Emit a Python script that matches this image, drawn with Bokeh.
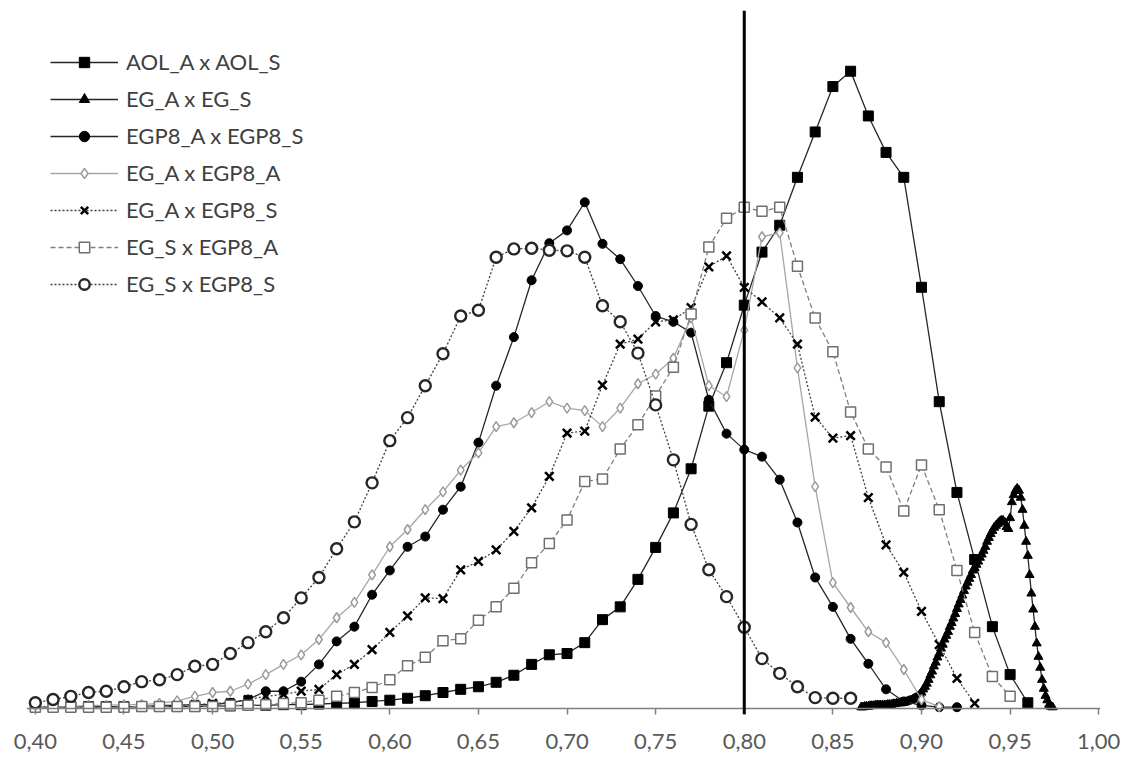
from bokeh.plotting import figure
from bokeh.models import Span, Legend, LegendItem, FixedTicker, Range1d
from bokeh.embed import file_html
from bokeh.resources import INLINE

def bins(start, n, step):
    return [round(start + step * i, 3) for i in range(n)]

# ---- data (relative frequency, arbitrary units) ----
aol = [0.3, 0.3, 0.3, 0.3, 0.3, 0.3, 0.3, 0.3, 0.3, 0.3,
       0.4, 0.4, 0.5, 0.5, 0.6, 0.6, 0.7, 0.8, 0.9, 1.1,
       1.3, 1.6, 2.0, 2.5, 3.0, 3.4, 4.1, 5.2, 6.9, 8.4,
       8.6, 10.3, 13.9, 15.9, 20.2, 25.2, 30.6, 37.5, 47.3, 54.1,
       63.1, 71.4, 75.6, 83.1, 90.2, 97.3, 99.7, 92.7, 87.0, 83.1,
       65.9, 48.0, 33.8, 23.3, 12.8, 5.3, 0.9]

eg_tri = [0.2, 0.2, 0.3, 0.3, 0.3, 0.4, 0.4, 0.4, 0.5, 0.5,
          0.5, 0.5, 0.5, 0.5, 0.5, 0.6, 0.6, 0.6, 0.7, 0.7,
          0.8, 0.8, 0.9, 0.9, 0.9, 1.0, 1.1, 1.2, 1.3, 1.4,
          1.6, 1.7, 1.9, 2.2, 2.5, 3.0, 3.4, 3.9, 4.5, 5.2,
          5.8, 6.6, 7.2, 8.0, 8.6, 9.4, 10.0, 10.8, 11.4, 12.0,
          12.8, 13.4, 14.1, 14.8, 15.6, 16.3, 17.0, 17.7, 18.4, 19.1,
          19.7, 20.3, 20.9, 21.6, 22.0, 22.5, 23.0, 23.6, 24.1, 24.7,
          25.3, 26.1, 26.7, 27.3, 27.8, 28.3, 28.6, 28.9, 29.2, 29.4,
          29.4, 29.1, 28.4, 28.1, 29.8, 32.3, 33.4, 34.1, 34.4, 34.1,
          33.0, 31.1, 28.6, 26.1, 23.9, 20.9, 18.0, 15.5, 12.8, 10.2,
          8.1, 6.4, 4.5, 3.1, 2.0, 1.3, 0.6, 0.3, 0.2]

egp8 = [0.3, 0.3, 0.3, 0.3, 0.3, 0.3, 0.3, 0.5, 0.5, 0.6,
        0.6, 0.9, 1.4, 2.7, 2.7, 4.2, 6.9, 10.5, 12.8, 17.8,
        21.6, 25.3, 26.9, 31.1, 34.7, 41.6, 50.5, 58.1, 67.0, 72.8,
        74.8, 79.2, 72.7, 70.3, 66.1, 61.4, 60.5, 58.8, 48.3, 43.0,
        40.5, 39.4, 35.8, 29.1, 20.5, 15.9, 10.9, 7.0, 3.0, 1.1,
        0.5, 0.2, 0.2]

ega_egp8a = [0.3, 0.3, 0.3, 0.5, 0.5, 0.6, 0.6, 0.8, 1.2, 1.9,
             2.5, 2.7, 3.8, 5.3, 6.9, 8.4, 10.8, 14.2, 16.6, 20.9,
             25.3, 28.0, 31.1, 33.9, 37.3, 40.0, 44.1, 44.7, 46.3, 48.0,
             47.0, 46.6, 44.1, 47.0, 50.8, 52.3, 54.8, 61.1, 50.5, 48.8,
             59.2, 73.8, 74.4, 53.3, 34.7, 19.7, 15.8, 12.0, 10.3, 6.1,
             1.4, 0.3]

ega_egp8s = [0.3, 0.2, 0.2, 0.2, 0.2, 0.3, 0.3, 0.3, 0.5, 0.6,
             0.8, 0.9, 1.4, 1.9, 2.2, 2.7, 3.0, 5.3, 6.9, 9.2,
             11.9, 14.5, 17.3, 17.2, 21.7, 23.0, 24.8, 27.7, 31.4, 36.3,
             43.1, 43.4, 50.6, 57.0, 57.8, 60.5, 60.8, 62.7, 69.1, 70.8,
             65.9, 63.6, 61.1, 57.0, 45.6, 42.3, 42.7, 33.0, 25.6, 21.3,
             15.2, 10.0, 4.7, 0.8]

egs_egp8a = [0.2, 0.2, 0.2, 0.2, 0.2, 0.2, 0.3, 0.3, 0.3, 0.3,
             0.3, 0.5, 0.5, 0.6, 0.8, 0.9, 1.3, 1.9, 2.5, 3.3,
             4.5, 6.7, 8.0, 10.6, 10.9, 13.8, 15.9, 18.8, 22.8, 25.8,
             29.5, 35.5, 35.9, 40.6, 44.4, 48.9, 53.4, 61.7, 72.2, 76.7,
             78.4, 77.8, 78.4, 69.2, 61.1, 55.8, 46.4, 40.6, 37.8, 30.9,
             38.1, 31.1, 21.6, 11.9, 5.0, 1.9]

egs_egp8s = [0.9, 1.4, 1.9, 2.5, 2.7, 3.4, 4.2, 4.5, 5.3, 6.6,
             6.9, 8.6, 10.3, 12.0, 14.2, 17.3, 20.5, 25.0, 29.2, 35.3,
             41.9, 45.5, 50.5, 55.5, 61.4, 62.3, 70.6, 71.9, 72.0, 71.7,
             71.6, 70.6, 63.0, 60.5, 55.6, 47.5, 38.9, 28.8, 21.7, 17.5,
             12.7, 7.8, 5.5, 3.4, 1.7, 1.6, 1.6]

tick_values = [0.40, 0.45, 0.50, 0.55, 0.60, 0.65, 0.70, 0.75, 0.80, 0.85, 0.90, 0.95, 1.00]
tick_labels = ["0,40", "0,45", "0,50", "0,55", "0,60", "0,65", "0,70", "0,75", "0,80", "0,85", "0,90", "0,95", "1,00"]
threshold = 0.80

series = [
    dict(name="AOL_A x AOL_S", x=bins(0.40, len(aol), 0.01), y=aol,
         line_color="#262626", dash="solid", marker="square", size=10,
         fill="black", mline="black", mlw=1),
    dict(name="EG_A x EG_S", x=bins(0.866, len(eg_tri), 0.001), y=eg_tri,
         line_color="#262626", dash="solid", marker="triangle", size=9,
         fill="black", mline="black", mlw=1),
    dict(name="EGP8_A x EGP8_S", x=bins(0.40, len(egp8), 0.01), y=egp8,
         line_color="#262626", dash="solid", marker="circle", size=9,
         fill="black", mline="black", mlw=1),
    dict(name="EG_A x EGP8_A", x=bins(0.40, len(ega_egp8a), 0.01), y=ega_egp8a,
         line_color="#a6a6a6", dash="solid", marker="diamond", size=10,
         fill="white", mline="#9a9a9a", mlw=1.5),
    dict(name="EG_A x EGP8_S", x=bins(0.40, len(ega_egp8s), 0.01), y=ega_egp8s,
         line_color="#404040", dash="2 2", marker="x", size=12,
         fill="black", mline="black", mlw=2.5),
    dict(name="EG_S x EGP8_A", x=bins(0.40, len(egs_egp8a), 0.01), y=egs_egp8a,
         line_color="#7f7f7f", dash="5 3", marker="square", size=10,
         fill="white", mline="#6f6f6f", mlw=1.5),
    dict(name="EG_S x EGP8_S", x=bins(0.40, len(egs_egp8s), 0.01), y=egs_egp8s,
         line_color="#404040", dash="2 2", marker="circle", size=11,
         fill="white", mline="#262626", mlw=2.4),
]

p = figure(width=1135, height=763,
           x_range=Range1d(0.395, 1.001), y_range=Range1d(-0.94, 109.2),
           output_backend="svg", toolbar_location=None,
           min_border_left=26, min_border_right=35,
           min_border_top=10, min_border_bottom=0)
p.outline_line_color = None
p.grid.visible = False
p.yaxis.visible = False
p.background_fill_color = "white"

ax = p.xaxis[0]
ax.ticker = FixedTicker(ticks=tick_values)
ax.major_label_overrides = dict(zip(tick_values, tick_labels))
ax.axis_line_color = None
ax.major_tick_in = 6
ax.major_tick_out = 0
ax.major_tick_line_color = "#7f7f7f"
ax.major_tick_line_width = 1.5
ax.minor_tick_line_color = None
ax.major_label_standoff = 19
ax.major_label_text_font = "Lato"
ax.major_label_text_font_size = "22px"
ax.major_label_text_color = "#595959"
# blank spacer label below the tick labels, leaves room at the bottom edge
ax.axis_label = " "
ax.axis_label_standoff = 0
ax.axis_label_text_font_size = "8px"

p.add_layout(Span(location=0, dimension="width", line_color="#7f7f7f", line_width=1.5))

items = []
for s in series:
    ln = p.line(s["x"], s["y"], line_color=s["line_color"], line_width=1.3,
                line_dash=s["dash"])
    sc = p.scatter(s["x"], s["y"], marker=s["marker"], size=s["size"],
                   fill_color=s["fill"], line_color=s["mline"], line_width=s["mlw"])
    items.append(LegendItem(label=s["name"], renderers=[ln, sc]))

p.add_layout(Span(location=threshold, dimension="height", line_color="black", line_width=3))

legend = Legend(items=items, location=(24, 417))
legend.glyph_width = 68
legend.glyph_height = 26
legend.label_height = 26
legend.spacing = 10
legend.padding = 0
legend.margin = 0
legend.label_standoff = 8
legend.border_line_color = None
legend.background_fill_alpha = 0
legend.label_text_font = "Lato"
legend.label_text_font_size = "22px"
legend.label_text_color = "#404040"
p.add_layout(legend)

open("out.html", "w").write(file_html(p, INLINE))
